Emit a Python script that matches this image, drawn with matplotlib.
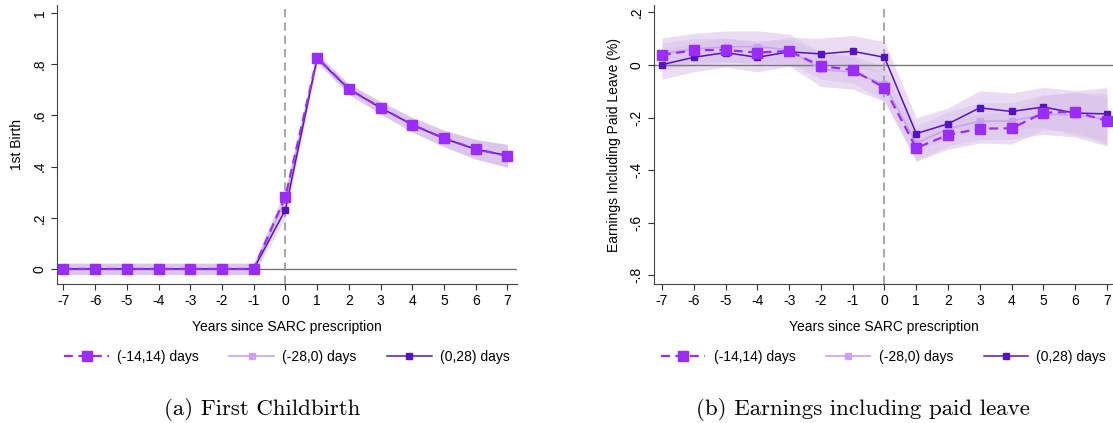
import numpy as np
import matplotlib
matplotlib.use("Agg")
import matplotlib.pyplot as plt

# event time
years = list(range(-7, 8))

# panel (a): first birth
birth_1414 = [0, 0, 0, 0, 0, 0, 0, 0.283, 0.826, 0.704, 0.631, 0.564, 0.511, 0.468, 0.442]
birth_2800 = [0, 0, 0, 0, 0, 0, 0, 0.272, 0.824, 0.702, 0.630, 0.563, 0.510, 0.467, 0.442]
birth_0028 = [0, 0, 0, 0, 0, 0, 0, 0.231, 0.824, 0.703, 0.630, 0.564, 0.510, 0.468, 0.443]
birth_ci = [0.022, 0.022, 0.022, 0.022, 0.022, 0.022, 0.022, 0.03, 0.016, 0.02, 0.024, 0.028, 0.032, 0.038, 0.044]

# panel (b): earnings incl. paid leave
earn_1414 = [0.038, 0.056, 0.057, 0.047, 0.053, -0.004, -0.019, -0.087, -0.316, -0.266, -0.242, -0.241, -0.182, -0.178, -0.213]
earn_2800 = [0.043, 0.060, 0.069, 0.070, 0.057, -0.017, -0.027, -0.074, -0.297, -0.243, -0.214, -0.213, -0.189, -0.189, -0.208]
earn_0028 = [0.001, 0.029, 0.047, 0.029, 0.050, 0.042, 0.052, 0.029, -0.261, -0.224, -0.163, -0.177, -0.160, -0.183, -0.186]
earn_ci_1414 = [0.045, 0.045, 0.045, 0.045, 0.045, 0.05, 0.05, 0.05, 0.05, 0.055, 0.055, 0.06, 0.065, 0.075, 0.09]
earn_ci_2800 = [0.06, 0.06, 0.06, 0.06, 0.06, 0.065, 0.065, 0.065, 0.065, 0.065, 0.07, 0.07, 0.075, 0.085, 0.1]
earn_ci_0028 = [0.055, 0.055, 0.055, 0.055, 0.055, 0.06, 0.06, 0.06, 0.06, 0.06, 0.065, 0.07, 0.075, 0.085, 0.1]

legend_labels = ["(-14,14) days", "(-28,0) days", "(0,28) days"]
c_mid = "#9a2cff"
c_light = "#c9a2f2"
c_dark = "#5512c4"
c_band = "#d9c2ea"

plt.rcParams["font.family"] = ["Liberation Sans", "DejaVu Sans"]

fig = plt.figure(figsize=(11.13, 4.23), dpi=100)
ax1 = fig.add_axes([57 / 1113, 1 - 284 / 423, (517 - 57) / 1113, 279 / 423])
ax2 = fig.add_axes([654 / 1113, 1 - 284 / 423, (1113 - 654) / 1113, 279 / 423])


def draw_panel(ax, series, cis, ylim, yticks, ytlabels, ylabel):
    x = np.array(years)
    for (vals, ci) in zip(series, cis):
        v = np.array(vals)
        c = np.array(ci)
        ax.fill_between(x, v - c, v + c, color=c_band, alpha=0.55, lw=0, zorder=1)
    ax.axhline(0, color="#777777", lw=1.0, zorder=2)
    ax.axvline(0, color="#999999", lw=1.2, ls=(0, (5, 3)), zorder=2)
    h1, = ax.plot(x, series[0], color=c_mid, lw=1.6, ls=(0, (4, 2.5)), marker="s", ms=6.5, zorder=5)
    h2, = ax.plot(x, series[1], color=c_light, lw=1.2, marker="s", ms=4.5, zorder=4)
    h3, = ax.plot(x, series[2], color=c_dark, lw=1.1, marker="s", ms=3.8, zorder=4)
    ax.set_ylim(*ylim)
    ax.set_yticks(yticks)
    ax.set_yticklabels(ytlabels, rotation=90, va="center")
    ax.set_xticks(years)
    ax.set_xticklabels([str(y) for y in years])
    ax.tick_params(axis="both", labelsize=10, color="#333333", length=4)
    for s in ["top", "right"]:
        ax.spines[s].set_visible(False)
    for s in ["left", "bottom"]:
        ax.spines[s].set_color("#444444")
    ax.set_xlabel("Years since SARC prescription", fontsize=10, labelpad=8)
    ax.set_ylabel(ylabel, fontsize=10, labelpad=6)
    ax.legend([h1, h2, h3], legend_labels, loc="upper center", bbox_to_anchor=(0.5, -0.19),
              ncol=3, frameon=False, fontsize=10, handlelength=3.2, columnspacing=2.2,
              handletextpad=0.6)


draw_panel(ax1, [birth_1414, birth_2800, birth_0028], [birth_ci, birth_ci, birth_ci],
           (-0.059, 1.032), [0, 0.2, 0.4, 0.6, 0.8, 1], ["0", ".2", ".4", ".6", ".8", "1"], "1st Birth")
ax1.set_xlim(-7.2, 7.3)

draw_panel(ax2, [earn_1414, earn_2800, earn_0028], [earn_ci_1414, earn_ci_2800, earn_ci_0028],
           (-0.833, 0.228), [-0.8, -0.6, -0.4, -0.2, 0, 0.2], ["-.8", "-.6", "-.4", "-.2", "0", ".2"],
           "Earnings Including Paid Leave (%)")
ax2.set_xlim(-7.25, 7.19)

fig.text(262 / 1113, 1 - 409 / 423, "(a) First Childbirth", family="cmr10", fontsize=16.5, ha="center", va="center")
fig.text(863 / 1113, 1 - 409 / 423, "(b) Earnings including paid leave", family="cmr10", fontsize=16.5, ha="center", va="center")

fig.savefig("out.png", dpi=100)
